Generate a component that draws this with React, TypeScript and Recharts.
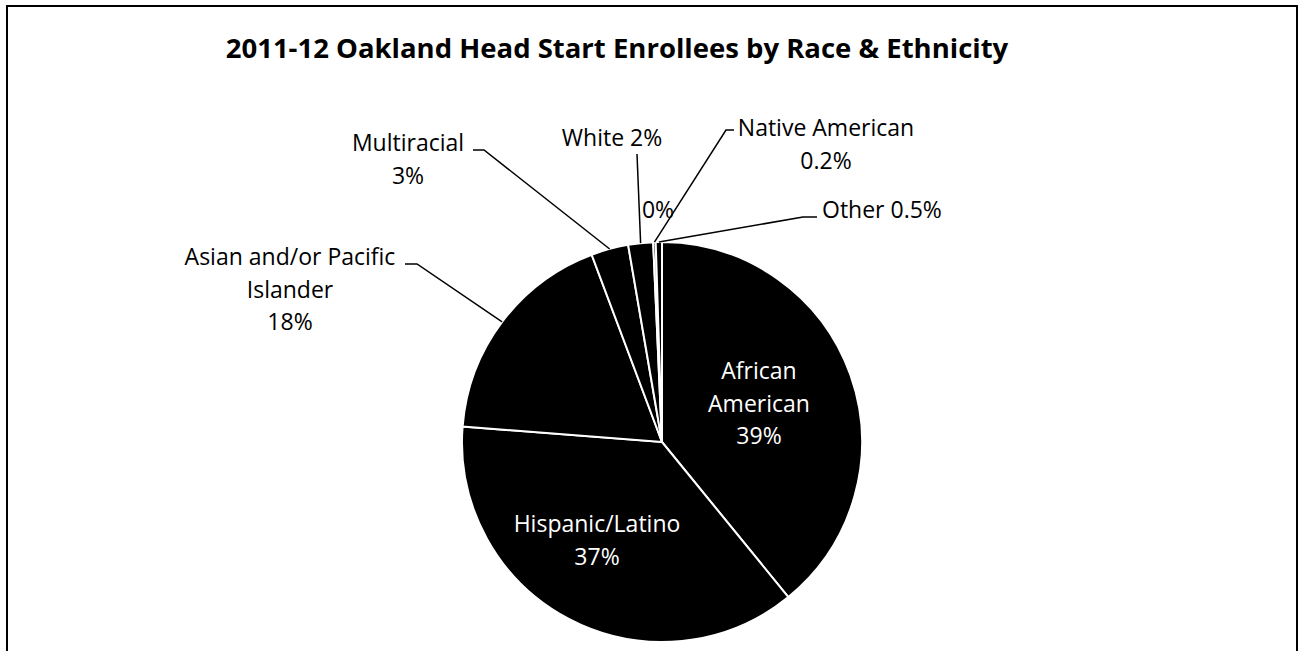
import React from 'react';
import { PieChart, Pie, Cell } from 'recharts';

// slices go clockwise from 12 o'clock, same order as the original sheet
const categories = [
    'African American',
    'Hispanic/Latino',
    'Asian and/or Pacific Islander',
    'Multiracial',
    'White',
    'Native American',
    'Unknown',
    'Other',
];
const shares = [39, 37, 18, 3, 2, 0.2, 0, 0.5];
const shareLabels = ['39%', '37%', '18%', '3%', '2%', '0.2%', '0%', '0.5%'];

const data = categories.map((name, i) => ({ name, value: shares[i], pct: shareLabels[i] }));

const RAD = Math.PI / 180;
const FONT = '"Open Sans", "Noto Sans", sans-serif';

type LabelSpec = {
    lines: string[];      // text lines, {pct} gets replaced
    x: number;
    y: number;            // first baseline
    anchor: 'start' | 'middle' | 'end';
    fill: string;
    leader?: number[][];  // points before the slice edge
};

// where Excel had the labels dragged to
const labelLayout: Record<string, LabelSpec> = {
    'African American': { lines: ['African', 'American', '{pct}'], x: 759, y: 379, anchor: 'middle', fill: '#fff' },
    'Hispanic/Latino': { lines: ['Hispanic/Latino', '{pct}'], x: 597, y: 532, anchor: 'middle', fill: '#fff' },
    'Asian and/or Pacific Islander': {
        lines: ['Asian and/or Pacific', 'Islander', '{pct}'], x: 290, y: 265, anchor: 'middle', fill: '#000',
        leader: [[405, 264], [417, 264]],
    },
    Multiracial: {
        lines: ['Multiracial', '{pct}'], x: 408, y: 151, anchor: 'middle', fill: '#000',
        leader: [[473, 150], [484, 150]],
    },
    White: { lines: ['White {pct}'], x: 612, y: 146, anchor: 'middle', fill: '#000', leader: [[637, 154]] },
    'Native American': {
        lines: ['Native American', '{pct}'], x: 826, y: 136, anchor: 'middle', fill: '#000',
        leader: [[734, 130], [726, 130]],
    },
    Unknown: { lines: ['{pct}'], x: 658, y: 218, anchor: 'middle', fill: '#000' },
    Other: { lines: ['Other {pct}'], x: 822, y: 218, anchor: 'start', fill: '#000', leader: [[817, 217], [803, 217]] },
};

const renderLabel = (props: any) => {
    const { cx, cy, midAngle, outerRadius, index } = props;
    const item = data[index];
    const spec = labelLayout[item.name];
    if (!spec) return null;
    const ex = cx + outerRadius * Math.cos(-midAngle * RAD);
    const ey = cy + outerRadius * Math.sin(-midAngle * RAD);
    const pts = spec.leader ? [...spec.leader, [ex, ey]] : null;
    return (
        <g key={`lbl-${index}`}>
            {pts && (
                <polyline
                    points={pts.map((p) => p.join(',')).join(' ')}
                    fill="none"
                    stroke="#000"
                    strokeWidth={1.5}
                />
            )}
            <text
                x={spec.x}
                y={spec.y}
                textAnchor={spec.anchor}
                fill={spec.fill}
                fontFamily={FONT}
                fontSize={23}
            >
                {spec.lines.map((ln, j) => (
                    <tspan key={j} x={spec.x} dy={j === 0 ? 0 : 32.5}>
                        {ln.replace('{pct}', item.pct)}
                    </tspan>
                ))}
            </text>
        </g>
    );
};

export default function App() {
    return (
        <div style={{ position: 'absolute', left: 0, top: 0, width: 1304, height: 651, background: '#fff', overflow: 'hidden' }}>
            <svg width={1304} height={651} style={{ position: 'absolute', left: 0, top: 0 }}>
                <rect x={7} y={6} width={1290} height={700} fill="none" stroke="#000" strokeWidth={2} />
                <text x={617} y={58} textAnchor="middle" fontFamily={FONT} fontWeight={700} fontSize={27.5} fill="#000">
                    2011-12 Oakland Head Start Enrollees by Race &amp; Ethnicity
                </text>
            </svg>
            <div style={{ position: 'absolute', left: 0, top: 0 }}>
                <PieChart width={1304} height={651}>
                    <Pie
                        data={data}
                        dataKey="value"
                        nameKey="name"
                        cx={657}
                        cy={437}
                        outerRadius={200}
                        startAngle={90}
                        endAngle={-270}
                        stroke="#fff"
                        strokeWidth={2}
                        label={renderLabel}
                        labelLine={false}
                        isAnimationActive={false}
                    >
                        {data.map((entry, index) => (
                            <Cell key={`cell-${index}`} fill="#000" />
                        ))}
                    </Pie>
                </PieChart>
            </div>
        </div>
    );
}
